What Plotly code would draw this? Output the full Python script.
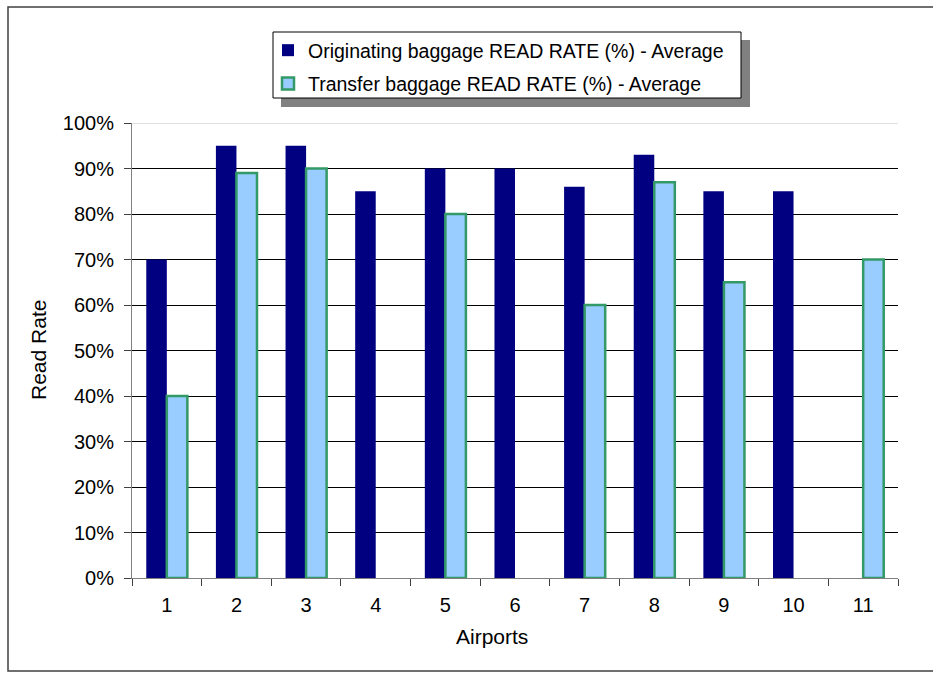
import plotly.graph_objects as go

# Airport read-rate averages (fraction of bags read)
airports = ["1", "2", "3", "4", "5", "6", "7", "8", "9", "10", "11"]
originating = [0.70, 0.95, 0.95, 0.85, 0.90, 0.90, 0.86, 0.93, 0.85, 0.85, None]
transfer = [0.40, 0.89, 0.90, None, 0.80, None, 0.60, 0.87, 0.65, None, 0.70]

FONT = "Liberation Sans, Arial, sans-serif"
W, H = 933, 673
L, R, T, B = 132, 35, 123, 95
PW, PH = W - L - R, H - T - B


def px(x):
    return (x - L) / PW


def py(y):
    return (H - B - y) / PH


fig = go.Figure()
fig.add_trace(go.Bar(
    x=airports, y=originating, name="Originating baggage READ RATE (%) - Average",
    marker=dict(color="#000080", line=dict(color="#000080", width=0)),
    legendgroup="a",
))
fig.add_trace(go.Bar(
    x=airports, y=transfer, name="Transfer baggage READ RATE (%) - Average",
    marker=dict(color="#99ccff", line=dict(color="#339966", width=2.5)),
    legendgroup="b",
))

shapes = [
    # outer chart frame
    dict(type="rect", xref="paper", yref="paper",
         x0=px(8), x1=px(980), y0=py(671), y1=py(7),
         line=dict(color="#404040", width=1.5), fillcolor="rgba(0,0,0,0)", layer="below"),
    # legend drop shadow
    dict(type="rect", xref="paper", yref="paper",
         x0=px(281), x1=px(750), y0=py(107), y1=py(40),
         line=dict(width=0), fillcolor="#808080", layer="above"),
    # legend box
    dict(type="rect", xref="paper", yref="paper",
         x0=px(273), x1=px(741), y0=py(98), y1=py(32),
         line=dict(color="#000000", width=1), fillcolor="white", layer="above"),
    # light top gridline at 100%
    dict(type="line", xref="paper", yref="y", x0=0, x1=1, y0=1, y1=1,
         line=dict(color="#c0c0c0", width=1), layer="above"),
]

annotations = [
    dict(text="Read Rate", xref="paper", yref="paper", x=px(38), y=py(350),
         textangle=-90, showarrow=False, font=dict(family=FONT, size=21, color="#000000"),
         xanchor="center", yanchor="middle"),
    dict(text="Airports", xref="paper", yref="paper", x=px(492), y=py(636),
         showarrow=False, font=dict(family=FONT, size=21, color="#000000"),
         xanchor="center", yanchor="middle"),
]

fig.update_layout(
    width=W, height=H,
    margin=dict(l=L, r=R, t=T, b=B, autoexpand=False),
    paper_bgcolor="white", plot_bgcolor="white",
    barmode="group", bargap=0.41, bargroupgap=0,
    font=dict(family=FONT, size=20, color="#000000"),
    shapes=shapes, annotations=annotations,
    legend=dict(
        x=px(268), y=py(31), xanchor="left", yanchor="top",
        bgcolor="rgba(0,0,0,0)", borderwidth=0,
        font=dict(family=FONT, size=19.5, color="#000000"),
        traceorder="grouped", tracegroupgap=5,
    ),
    xaxis=dict(
        showline=True, linecolor="#808080", linewidth=1,
        ticks="outside", ticklen=7, tickcolor="#404040", tickson="boundaries",
        showgrid=False, ticklabelstandoff=9,
        tickfont=dict(family=FONT, size=20),
    ),
    yaxis=dict(
        range=[0, 1], dtick=0.1, tickformat=".0%",
        showline=True, linecolor="#808080", linewidth=1,
        ticks="outside", ticklen=7, tickcolor="#404040",
        showgrid=True, gridcolor="#000000", gridwidth=1,
        zeroline=False, ticklabelstandoff=6,
        tickfont=dict(family=FONT, size=20),
    ),
)

fig.write_html("out.html")
